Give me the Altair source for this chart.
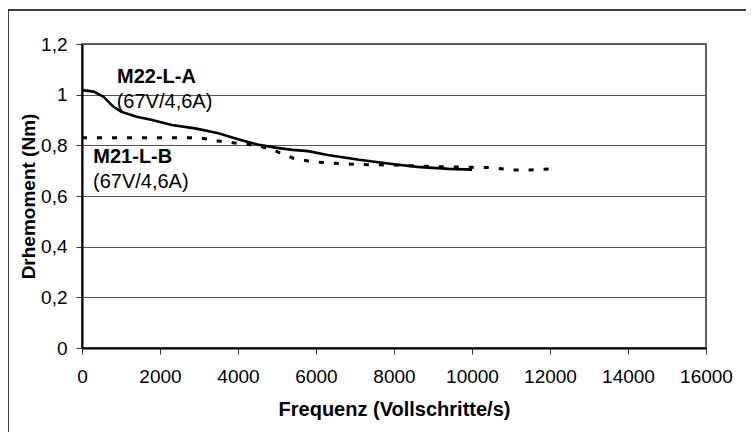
import altair as alt
import pandas as pd

# M22-L-A (solid)
freq_a = [0, 300, 550, 800, 1000, 1400, 1800, 2300, 2900, 3500, 4000, 4500,
          5000, 5400, 5800, 6300, 7100, 8000, 8600, 9400, 10000]
torque_a = [1.018, 1.012, 0.992, 0.953, 0.933, 0.913, 0.900, 0.880, 0.867, 0.848,
            0.824, 0.803, 0.790, 0.782, 0.777, 0.762, 0.743, 0.725, 0.715, 0.707, 0.704]

# M21-L-B (dotted)
freq_b = [0, 1000, 2000, 3000, 3500, 4000, 4500, 5000, 5400, 5900, 6500, 7200,
          8000, 9000, 10000, 10500, 11000, 11500, 12000]
torque_b = [0.830, 0.830, 0.830, 0.830, 0.817, 0.808, 0.800, 0.775, 0.750, 0.735,
            0.729, 0.724, 0.722, 0.716, 0.713, 0.712, 0.703, 0.703, 0.707]

bold_texts = ["M22-L-A", "M21-L-B"]
bold_x = [897, 290]
bold_y = [1.046, 0.729]
plain_texts = ["(67V/4,6A)", "(67V/4,6A)"]
plain_x = [890, 282]
plain_y = [0.946, 0.630]

x_ticks = [0, 2000, 4000, 6000, 8000, 10000, 12000, 14000, 16000]
y_ticks = [0, 0.2, 0.4, 0.6, 0.8, 1.0, 1.2]

df_a = pd.DataFrame({"f": freq_a, "t": torque_a})
df_b = pd.DataFrame({"f": freq_b, "t": torque_b})
df_bold = pd.DataFrame({"f": bold_x, "t": bold_y, "txt": bold_texts})
df_plain = pd.DataFrame({"f": plain_x, "t": plain_y, "txt": plain_texts})

FONT = "Liberation Sans"

x_scale = alt.Scale(domain=[0, 16000], nice=False)
y_scale = alt.Scale(domain=[0, 1.2], nice=False)

x_enc = alt.X("f:Q", scale=x_scale, axis=alt.Axis(
    values=x_ticks, format="d", title="Frequenz (Vollschritte/s)", grid=False,
    labelOverlap=False, labelFlush=False,
    labelPadding=13, titlePadding=13, titleFontSize=20))
y_enc = alt.Y("t:Q", scale=y_scale, axis=alt.Axis(
    values=y_ticks, labelExpr="replace(format(datum.value, '~g'), '.', ',')",
    title="Drhemoment (Nm)", grid=True, gridColor="#555", gridWidth=1,
    labelOverlap=False, labelFlush=False,
    labelPadding=9, titlePadding=2, titleFontSize=19))

line_a = alt.Chart(df_a).mark_line(color="black", strokeWidth=2.6).encode(
    x=x_enc, y=y_enc)
line_b = alt.Chart(df_b).mark_line(color="black", strokeWidth=3,
                                   strokeDash=[5, 10], strokeCap="butt").encode(
    x="f:Q", y="t:Q")

txt_bold = alt.Chart(df_bold).mark_text(
    align="left", baseline="alphabetic", font=FONT, fontSize=20,
    fontWeight="bold", color="black").encode(x="f:Q", y="t:Q", text="txt:N")
txt_plain = alt.Chart(df_plain).mark_text(
    align="left", baseline="alphabetic", font=FONT, fontSize=20,
    color="black").encode(x="f:Q", y="t:Q", text="txt:N")

one = pd.DataFrame({"a": [0]})
frame_top = alt.Chart(one).mark_rule(color="black", strokeWidth=1.5).encode(
    x=alt.value(-74), x2=alt.value(900), y=alt.value(-34))
frame_left = alt.Chart(one).mark_rule(color="black", strokeWidth=1.5).encode(
    x=alt.value(-74), y=alt.value(-34), y2=alt.value(600))

chart = alt.layer(line_a, line_b, txt_bold, txt_plain, frame_top, frame_left).properties(
    width=624, height=304,
    autosize=alt.AutoSizeParams(type="none"),
    padding={"left": 74, "top": 36, "right": 40, "bottom": 84},
).configure_view(
    stroke="#333", strokeWidth=1.5
).configure_axis(
    domainColor="black", domainWidth=2, tickColor="#333", tickSize=6,
    labelFont=FONT, labelFontSize=19, labelColor="black",
    titleFont=FONT, titleFontWeight="bold", titleColor="black",
)

chart.save("out.html", embed_options={"renderer": "svg", "actions": False})
